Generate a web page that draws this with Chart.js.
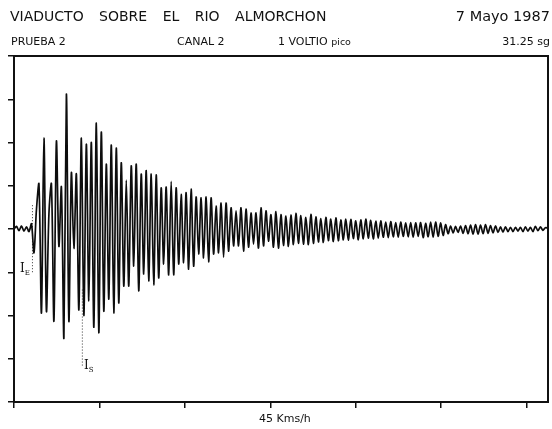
<!DOCTYPE html>
<html>
<head>
<meta charset="utf-8">
<script src="https://cdn.jsdelivr.net/npm/chart.js@4.4.1/dist/chart.umd.min.js"></script>
<style>
  body { margin: 0; background: #fff; }
  #wrap { position: relative; width: 552px; height: 429px; }
  canvas { position: absolute; left: 0; top: 0; }
  .lbl { position: absolute; font-family: "DejaVu Sans", sans-serif; color: #111; white-space: pre; line-height: 1; }
</style>
</head>
<body>
<div id="wrap">
  <canvas id="seismo" width="552" height="429"></canvas>
  <div class="lbl" style="left:10px; top:9px; font-size:14px; word-spacing:11px;">VIADUCTO SOBRE EL RIO ALMORCHON</div>
  <div class="lbl" style="right:2px; top:9px; font-size:14.5px;">7 Mayo 1987</div>
  <div class="lbl" style="left:11px; top:36px; font-size:11px;">PRUEBA 2</div>
  <div class="lbl" style="left:177px; top:36px; font-size:11px;">CANAL 2</div>
  <div class="lbl" style="left:278px; top:36px; font-size:11px;">1 VOLTIO <span style="font-size:9.5px">pico</span></div>
  <div class="lbl" style="right:2px; top:36px; font-size:11px;">31.25 sg</div>
  <div class="lbl" style="left:20px; top:262px; font-size:12px; font-family:'DejaVu Serif',serif;">I<sub style="font-size:7px">E</sub></div>
  <div class="lbl" style="left:84px; top:359px; font-size:12px; font-family:'DejaVu Serif',serif;">I<sub style="font-size:7px">S</sub></div>
  <div class="lbl" style="left:259px; top:413px; font-size:11px;">45 Kms/h</div>
</div>
<script>
// recording: 31.25 s, one value every sampleStep seconds (successive extremes)
const sampleStep = 0.146;
const traceValues = [
  0.00, 0.06, -0.04, 0.07, -0.05, 0.05, -0.06, 0.12, -0.55, 0.45,
  1.04, -1.94, 2.10, -1.90, 0.35, 1.04, -2.13, 2.03, -0.40, 0.97,
  -2.52, 3.12, -2.13, 1.30, -0.45, 1.27, -1.87, 2.10, -2.00, 1.96,
  -1.66, 2.00, -2.27, 2.45, -2.40, 2.24, -1.90, 1.50, -1.62, 1.94,
  -1.94, 1.87, -1.71, 1.53, -1.32, 1.13, -1.32, 1.46, -0.86, 1.50,
  -1.43, 1.27, -1.04, 1.35, -1.20, 1.27, -1.29, 1.25, -1.13, 0.95,
  -0.81, 0.97, -1.06, 1.10, -1.06, 0.95, -0.81, 0.80, -0.78, 0.84,
  -0.93, 0.92, -0.86, 0.74, -0.58, 0.72, -0.67, 0.74, -0.76, 0.72,
  -0.58, 0.53, -0.55, 0.60, -0.65, 0.60, -0.51, 0.49, -0.39, 0.42,
  -0.39, 0.49, -0.51, 0.46, -0.42, 0.37, -0.35, 0.37, -0.44, 0.49,
  -0.39, 0.42, -0.28, 0.33, -0.42, 0.40, -0.44, 0.33, -0.38, 0.30,
  -0.40, 0.32, -0.36, 0.36, -0.33, 0.31, -0.35, 0.27, -0.36, 0.34,
  -0.33, 0.28, -0.30, 0.24, -0.31, 0.27, -0.27, 0.23, -0.29, 0.26,
  -0.27, 0.21, -0.25, 0.23, -0.26, 0.22, -0.22, 0.19, -0.25, 0.21,
  -0.23, 0.23, -0.21, 0.20, -0.23, 0.18, -0.21, 0.19, -0.19, 0.16,
  -0.20, 0.17, -0.18, 0.15, -0.19, 0.16, -0.17, 0.14, -0.18, 0.15,
  -0.19, 0.14, -0.17, 0.15, -0.20, 0.13, -0.18, 0.16, -0.19, 0.16,
  -0.17, 0.14, -0.15, 0.10, -0.11, 0.07, -0.09, 0.06, -0.08, 0.07,
  -0.10, 0.08, -0.11, 0.09, -0.12, 0.10, -0.12, 0.09, -0.11, 0.10,
  -0.10, 0.08, -0.09, 0.07, -0.08, 0.05, -0.07, 0.05, -0.06, 0.04,
  -0.06, 0.04, -0.05, 0.04, -0.06, 0.05, -0.05, 0.04, -0.06, 0.06,
  -0.04, 0.05, -0.03, 0.03, 0.02
];

// arrival markers (dotted)
const ieTimes = [1.08, 1.08];
const ieValues = [0.55, -1.02];
const isTimes = [4.0, 4.0];
const isValues = [-1.40, -3.20];

const xTicks = [0, 5, 10, 15, 20, 25, 30];
const yTicks = [-4, -3, -2, -1, 0, 1, 2, 3, 4];

const tracePoints = traceValues.map((v, i) => ({ x: i * sampleStep, y: v }));

const frame = {
  id: 'frame',
  afterDraw(chart) {
    const a = chart.chartArea, c = chart.ctx;
    c.save();
    c.strokeStyle = '#111';
    c.lineWidth = 2;
    c.strokeRect(a.left, a.top, a.right - a.left, a.bottom - a.top);
    c.restore();
  }
};

new Chart(document.getElementById('seismo').getContext('2d'), {
  type: 'line',
  data: {
    datasets: [
      {
        data: tracePoints,
        borderColor: '#0d0d0d',
        borderWidth: 1.7,
        pointRadius: 0,
        tension: 0.3
      },
      {
        data: ieTimes.map((t, i) => ({ x: t, y: ieValues[i] })),
        borderColor: '#333',
        borderWidth: 1,
        borderDash: [1, 2],
        pointRadius: 0
      },
      {
        data: isTimes.map((t, i) => ({ x: t, y: isValues[i] })),
        borderColor: '#333',
        borderWidth: 1,
        borderDash: [1, 2],
        pointRadius: 0
      }
    ]
  },
  options: {
    responsive: false,
    animation: false,
    layout: { padding: { top: 56, right: 4, left: 0, bottom: 0 } },
    plugins: { legend: { display: false }, tooltip: { enabled: false } },
    scales: {
      x: {
        type: 'linear',
        min: 0,
        max: 31.25,
        afterBuildTicks: s => { s.ticks = xTicks.map(v => ({ value: v })); },
        afterFit: s => { s.height = 27; },
        ticks: { display: false },
        grid: { drawOnChartArea: false, drawTicks: true, tickLength: 6, color: '#111', lineWidth: 1.5 },
        border: { color: '#111', width: 2 }
      },
      y: {
        min: -4,
        max: 4,
        afterBuildTicks: s => { s.ticks = yTicks.map(v => ({ value: v })); },
        afterFit: s => { s.width = 14; },
        ticks: { display: false },
        grid: { drawOnChartArea: false, drawTicks: true, tickLength: 6, color: '#111', lineWidth: 1.5 },
        border: { color: '#111', width: 2 }
      }
    }
  },
  plugins: [frame]
});
</script>
</body>
</html>
